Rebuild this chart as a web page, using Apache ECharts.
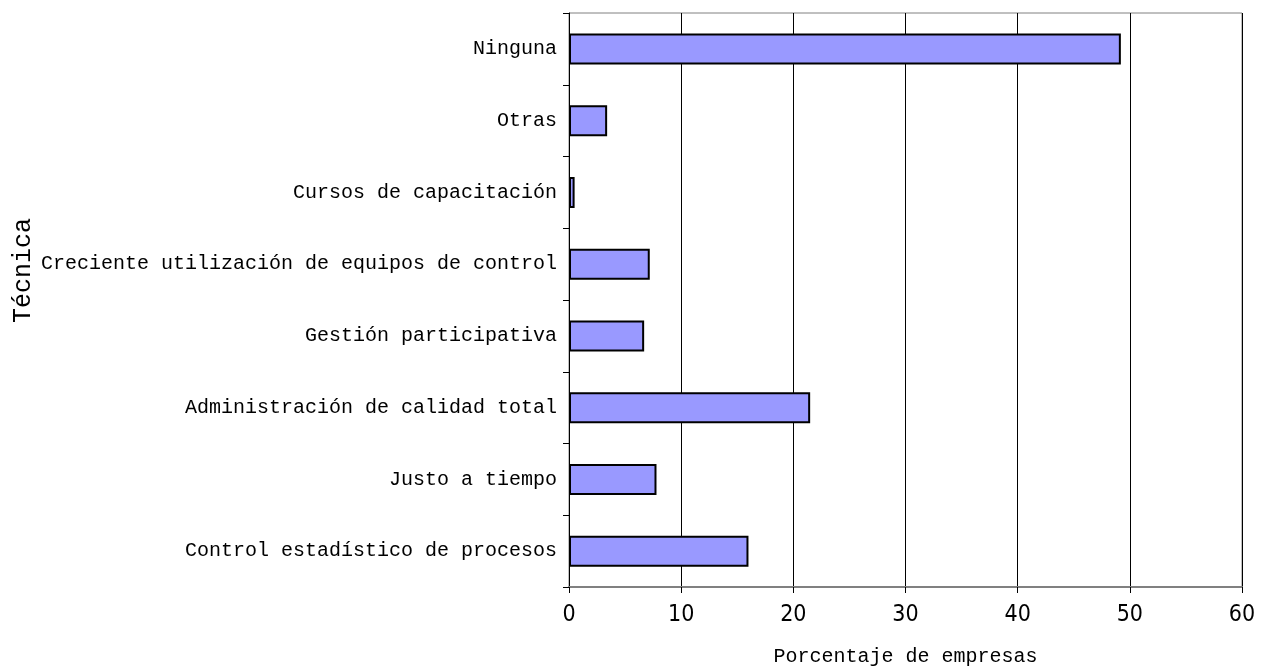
<!DOCTYPE html>
<html>
<head>
<meta charset="utf-8">
<script src="https://cdn.jsdelivr.net/npm/echarts@6/dist/echarts.min.js"></script>
<style>
  html, body { margin: 0; padding: 0; background: #fff; }
  #chart { width: 1269px; height: 668px; }
</style>
</head>
<body>
<div id="chart"></div>
<script>
// categorías de abajo hacia arriba
const tecnicas = [
    'Control estadístico de procesos',
    'Justo a tiempo',
    'Administración de calidad total',
    'Gestión participativa',
    'Creciente utilización de equipos de control',
    'Cursos de capacitación',
    'Otras',
    'Ninguna'
];
const porcentajes = [16.0, 7.8, 21.5, 6.7, 7.2, 0.5, 3.4, 49.2];
const xTicks = [0, 10, 20, 30, 40, 50, 60];

const chart = echarts.init(document.getElementById('chart'));
const monoFont = '"Liberation Mono", "DejaVu Sans Mono", monospace';

chart.setOption({
    backgroundColor: '#ffffff',
    animation: false,
    grid: {
        left: 569, right: 27, top: 13, bottom: 81,
        outerBoundsMode: 'none',
        show: true, borderColor: '#808080', borderWidth: 1
    },
    // título del eje vertical, desplazado hacia arriba como en el original
    graphic: [{
        type: 'text',
        left: 11, top: 218,
        rotation: Math.PI / 2,
        style: { text: 'Técnica', font: '25px ' + monoFont, fill: '#000' }
    }],
    xAxis: {
        type: 'value',
        min: xTicks[0], max: xTicks[xTicks.length - 1], interval: 10,
        name: 'Porcentaje de empresas',
        nameLocation: 'middle', nameGap: 60,
        nameTextStyle: { fontFamily: monoFont, fontSize: 20, color: '#000' },
        axisLine: { show: true, lineStyle: { color: '#808080', width: 2 } },
        axisTick: { show: true, length: 6, lineStyle: { color: '#000' } },
        axisLabel: { margin: 17, fontFamily: '"DejaVu Sans Condensed", "DejaVu Sans", sans-serif', fontSize: 23, color: '#000' },
        splitLine: { show: true, lineStyle: { color: '#000', width: 1 } }
    },
    yAxis: {
        type: 'category',
        data: tecnicas,
        axisLine: { show: true, lineStyle: { color: '#000', width: 1 } },
        axisTick: { show: true, length: 6, lineStyle: { color: '#000' } },
        axisLabel: { margin: 12, fontFamily: monoFont, fontSize: 20, color: '#000' },
        splitLine: { show: false }
    },
    series: [{
        type: 'bar',
        data: porcentajes,
        barWidth: 31,
        itemStyle: { color: '#9999ff', borderColor: '#000', borderWidth: 2 }
    }]
});
</script>
</body>
</html>
